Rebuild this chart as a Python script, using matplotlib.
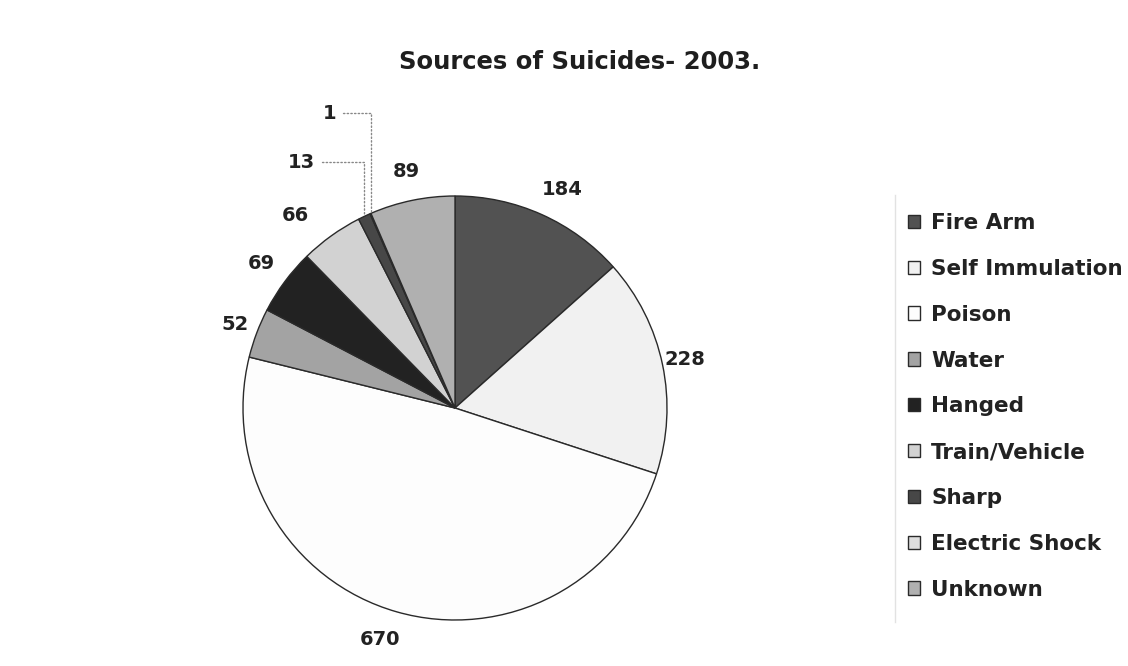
import numpy as np
import matplotlib.pyplot as plt
from matplotlib.lines import Line2D

plt.rcParams["font.family"] = ["DejaVu Sans"]

# Data
categories = ["Fire Arm", "Self Immulation", "Poison", "Water", "Hanged",
              "Train/Vehicle", "Sharp", "Electric Shock", "Unknown"]
counts = [184, 228, 670, 52, 69, 66, 13, 1, 89]
colors = ["#525252", "#f1f1f1", "#fdfdfd", "#a3a3a3", "#222222",
          "#d2d2d2", "#474747", "#dedede", "#b0b0b0"]

W, H = 1128, 666
fig = plt.figure(figsize=(W / 100, H / 100), dpi=100)

# pie centre / radius in pixels
cx, cy, R = 455, 258, 212
xl, xr, yb, yt = -1.6, 1.6, -1.2, 1.7
ax = fig.add_axes([(cx + xl * R) / W, (cy + yb * R) / H,
                   (xr - xl) * R / W, (yt - yb) * R / H])

wedges, texts = ax.pie(
    counts, colors=colors, startangle=90, counterclock=False,
    labels=[str(c) for c in counts], labeldistance=1.14,
    wedgeprops=dict(edgecolor="#2a2a2a", linewidth=1.0),
    textprops=dict(fontsize=14, fontweight="bold", color="#222222"),
)
# nudge a few labels the way the original chart placed them (angle shift, radius)
nudge = {0: (-2.0, 1.15), 1: (0.0, 1.11), 2: (-2.0, 1.15), 3: (0.0, 1.11),
         5: (4.0, 1.18)}
for i, t in enumerate(texts):
    t.set_ha("center")
    t.set_va("center")
    if i in nudge:
        da, r = nudge[i]
        a = np.deg2rad((wedges[i].theta1 + wedges[i].theta2) / 2 + da)
        t.set_position((r * np.cos(a), r * np.sin(a)))
ax.set_xlim(xl, xr)
ax.set_ylim(yb, yt)
ax.set_aspect("equal")
ax.axis("off")

# small slices: labels pulled out with dotted leaders
small = {6: (-0.66, 1.16), 7: (-0.56, 1.39)}
for i, (lx, ly) in small.items():
    t = texts[i]
    t.set_position((lx, ly))
    t.set_ha("right")
    w = wedges[i]
    ang = np.deg2rad((w.theta1 + w.theta2) / 2)
    px, py = np.cos(ang), np.sin(ang)
    ax.annotate("", xy=(px, py), xytext=(lx + 0.02, ly),
                arrowprops=dict(arrowstyle="-", linestyle=":", color="#888888",
                                linewidth=1.0,
                                connectionstyle="angle,angleA=0,angleB=90,rad=0"))

fig.text(580 / W, 1 - 62 / H, "Sources of Suicides- 2003.", ha="center", va="center",
         fontsize=17.5, fontweight="bold", color="#1e1e1e")

leg = fig.legend(wedges, categories, loc="upper left",
                 bbox_to_anchor=(908 / W, 1 - 213 / H), frameon=False,
                 fontsize=15.5, handlelength=0.58, handleheight=0.58,
                 handletextpad=0.5, labelspacing=1.2, borderaxespad=0,
                 borderpad=0)
for t in leg.get_texts():
    t.set_fontweight("bold")
    t.set_color("#222222")

fig.add_artist(Line2D([895 / W, 895 / W], [1 - 195 / H, 1 - 622 / H],
                      color="#e2e2e2", linewidth=1.0, transform=fig.transFigure))

fig.savefig("out.png", dpi=100)
